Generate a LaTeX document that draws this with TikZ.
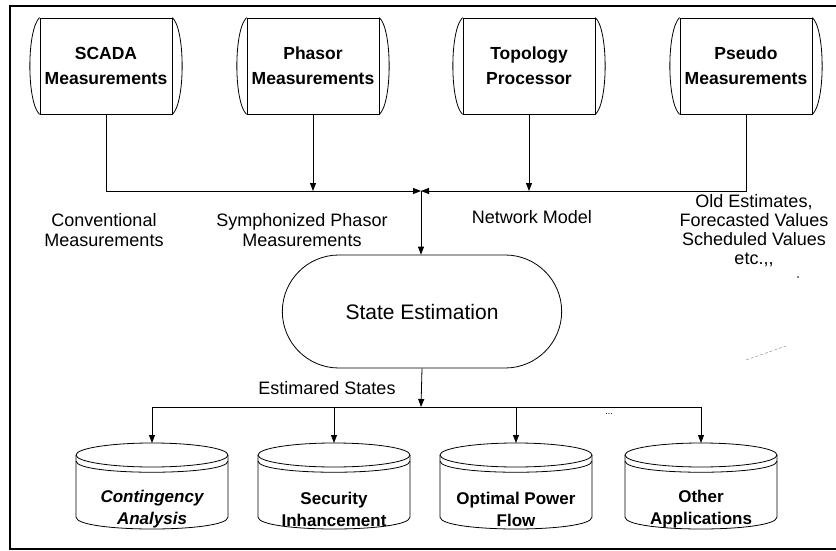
\documentclass[tikz,border=0pt]{standalone}
\usepackage{fontspec}
\setmainfont{Liberation Sans}
\usetikzlibrary{arrows.meta,shapes.misc,calc}
\newcommand\drumsides[1]{%
  \draw (#1.north west) .. controls +(-13,12) and +(-13,-12) .. (#1.south west);
  \draw (#1.north east) .. controls +(13,12) and +(13,-12) .. (#1.south east);}
\newcommand\cylshape[1]{%
  \draw ($(#1)+(0,-54)$) ellipse [x radius=76, y radius=12];
  \draw ($(#1)+(-76,-48)$) .. controls +(0,15) and +(0,15) .. ($(#1)+(76,-48)$);
  \draw ($(#1)+(-76,-54)$) -- ($(#1)+(-76,8)$) .. controls +(0,16) and +(0,16) .. ($(#1)+(76,8)$) -- ($(#1)+(76,-54)$);
  \coordinate (#1top) at ($(#1)+(0,-66)$);}
\begin{document}
\begin{tikzpicture}[x=1pt,y=-1pt,line width=0.8pt,
  arr/.style={-{Triangle[length=8pt,width=6pt]}},
  drum/.style={draw, minimum width=132pt, minimum height=96pt, inner sep=0pt, align=center,
    font=\fontsize{17.5}{25}\selectfont\bfseries},
  lbl/.style={align=center, inner sep=0pt, font=\fontsize{18}{20}\selectfont},
  cyltext/.style={align=center, inner sep=0pt, font=\fontsize{17}{22}\selectfont\bfseries},
  cylit/.style={cyltext, font=\fontsize{17}{22}\selectfont\bfseries\itshape},
  sestyle/.style={draw, rounded rectangle, minimum width=286pt, minimum height=113pt,
    font=\fontsize{21}{24}\selectfont}]
\useasboundingbox (0,0) rectangle (836,551);
% frame
\draw[line width=1.6pt] (836,6) -- (10,6) -- (10,549) -- (836,549);
% top drums
\node[drum] (sc) at (106,66) {SCADA\\Measurements};
\node[drum] (ph) at (313,66) {Phasor\\Measurements};
\node[drum] (tp) at (529,66) {Topology\\Processor};
\node[drum] (ps) at (746,66) {Pseudo\\Measurements};
\drumsides{sc}\drumsides{ph}\drumsides{tp}\drumsides{ps}
% junction
\coordinate (j) at (421,191);
\draw[arr] (sc.south) |- (j);
\draw[arr] (ps.south) |- (j);
\draw[arr] (ph.south) -- (ph.south |- j);
\draw[arr] (tp.south) -- (tp.south |- j);
% labels
\node[lbl] (l1) at (104,230) {Conventional\\Measurements};
\node[lbl] (l2) at (302,230) {Symphonized Phasor\\Measurements};
\node[lbl] (l3) at (532,217) {Network Model};
\node[lbl, font=\fontsize{18}{19}\selectfont] (l4) at (754,231) {Old Estimates,\\Forecasted Values\\Scheduled Values\\etc.,{},};
% state estimation
\node[sestyle] (se) at (422,311.5) {State Estimation};
\draw[arr] (j) -- (j |- se.north);
\coordinate (k) at (421,407);
\draw[arr] (se.south) -- (k);
\node[lbl] (l5) at (327,388) {Estimared States};
% cylinders
\node[cylit] (ca) at (152,509) {Contingency\\Analysis};
\node[cyltext] (si) at (334,509) {Security\\Inhancement};
\node[cyltext] (op) at (516,509) {Optimal Power\\Flow};
\node[cyltext] (oa) at (701,509) {Other\\Applications};
\cylshape{ca}\cylshape{si}\cylshape{op}\cylshape{oa}
\draw (ca |- k) -- (oa |- k);
\draw[arr] (ca |- k) -- (catop);
\draw[arr] (si |- k) -- (sitop);
\draw[arr] (op |- k) -- (optop);
\draw[arr] (oa |- k) -- (oatop);
\node[font=\fontsize{9}{9}\selectfont, inner sep=0pt] (dots) at (609,414) {...};
% scan marks
\draw[densely dashed, line width=0.4pt, gray] (746,360) -- (786,346);
\fill (798,277) circle (0.8);
\end{tikzpicture}
\end{document}
